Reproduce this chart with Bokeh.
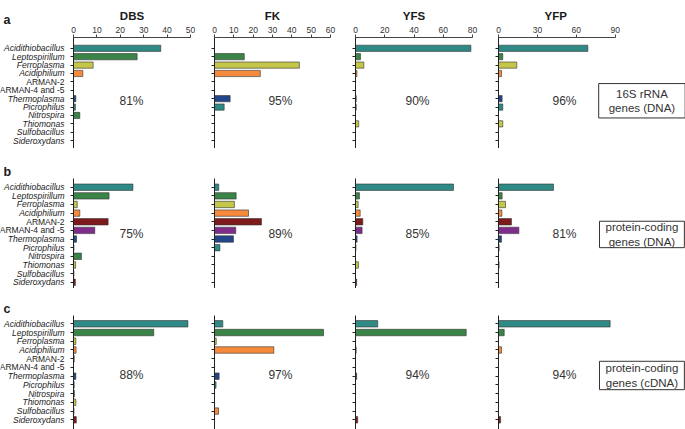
from bokeh.plotting import figure
from bokeh.models import Range1d, FixedTicker, LabelSet, Label, ColumnDataSource, LinearAxis
from bokeh.core.properties import value
from bokeh.layouts import column, row
from bokeh.embed import file_html
from bokeh.resources import INLINE

# ---------------- data ----------------
categories = ["Acidithiobacillus", "Leptospirillum", "Ferroplasma", "Acidiphilium",
              "ARMAN-2", "ARMAN-4 and -5", "Thermoplasma", "Picrophilus", "Nitrospira",
              "Thiomonas", "Sulfobacillus", "Sideroxydans"]
label_styles = ["italic", "italic", "italic", "italic", "normal", "normal",
                "italic", "italic", "italic", "italic", "italic", "italic"]
bar_colors = ["#2f8a85", "#3a8447", "#c4c64a", "#f68a3c", "#7f1a1c", "#7f2c8a",
              "#23468a", "#2f8a85", "#3a8447", "#c4c64a", "#f68a3c", "#7f1a1c"]

sites = ["DBS", "FK", "YFS", "YFP"]
axis_max = [50, 60, 80, 90]
axis_step = [10, 10, 20, 30]
row_letters = ["a", "b", "c"]
row_boxes = ["16S rRNA\ngenes (DNA)", "protein-coding\ngenes (DNA)", "protein-coding\ngenes (cDNA)"]

# a: 16S rRNA genes (DNA)
rrna_DBS = [37.3, 27.2, 8.4, 4.0, 0, 0, 1.0, 0.8, 2.7, 0, 0, 0]
rrna_FK = [0, 15.4, 43.9, 23.7, 0, 0, 8.1, 5.0, 0, 0, 0, 0]
rrna_YFS = [78.9, 3.4, 5.7, 1.0, 0, 0, 0.5, 0.5, 0, 2.2, 0, 0]
rrna_YFP = [68.9, 3.3, 14.1, 2.3, 0, 0, 2.8, 3.3, 0, 3.3, 0, 0]
rrna_pct = ["81%", "95%", "90%", "96%"]

# b: protein-coding genes (DNA)
dna_DBS = [25.4, 15.2, 1.6, 2.7, 14.8, 9.1, 1.3, 0.2, 3.4, 0.9, 0.2, 0.8]
dna_FK = [2.2, 11.2, 10.3, 17.6, 24.3, 11.0, 9.8, 2.8, 0, 0, 0, 0]
dna_YFS = [67.0, 2.7, 1.8, 3.2, 5.0, 4.5, 1.1, 0.3, 0, 2.0, 0, 0.8]
dna_YFP = [42.4, 2.8, 5.4, 2.6, 10.0, 15.7, 2.3, 0.5, 0, 0.5, 0, 0]
dna_pct = ["75%", "89%", "85%", "81%"]

# c: protein-coding genes (cDNA)
cdna_DBS = [48.9, 34.3, 1.0, 1.1, 0.3, 0, 1.0, 0.3, 0.4, 1.0, 0.2, 1.2]
cdna_FK = [4.3, 56.4, 0.9, 30.7, 0, 0, 2.4, 0.8, 0, 0, 2.1, 0]
cdna_YFS = [15.2, 75.7, 0, 0.5, 0, 0, 0.8, 0, 0, 0, 0, 1.5]
cdna_YFP = [86.1, 4.4, 0, 2.3, 0, 0, 0, 0, 0, 0, 0, 1.6]
cdna_pct = ["88%", "97%", "94%", "94%"]

row_values = [[rrna_DBS, rrna_FK, rrna_YFS, rrna_YFP],
              [dna_DBS, dna_FK, dna_YFS, dna_YFP],
              [cdna_DBS, cdna_FK, cdna_YFS, cdna_YFP]]
row_pcts = [rrna_pct, dna_pct, cdna_pct]

# ---------------- layout constants (pixels) ----------------
label_col_width = 65
col_left = [8, 12, 12, 12]
col_frame = [117, 116, 117, 187]
col_right = [12, 13, 14, 0]
col_xend = [50, 60, 80, 144.2]
pct_x = [24.8, 34.1, 42.4, 50.9]

row_fig_top = [0, 148, 288]
row_fig_bottom = [148, 288, 429]
row_frame_top = [35, 178, 315]
row_first = [46, 186.7, 323.3]
row_spacing = [8.545, 8.64, 8.73]
row_pct_y = [6.25, 5.47, 5.92]
row_letter_standoff = [21, 0, 0]
row_box_pad = [(10, 4), (6, 0), (6, 1)]
box_x = 110.6

FONT = "Liberation Sans"
idx = list(range(len(categories)))


def y_range_for(r):
    first, sp = row_first[r], row_spacing[r]
    return Range1d((row_fig_bottom[r] - first) / sp, (row_frame_top[r] - first) / sp)


def bare_figure(width, height, x_range, y_range, left, right, top):
    p = figure(width=width, height=height, x_range=x_range, y_range=y_range,
               x_axis_location=None, y_axis_location=None,
               toolbar_location=None, output_backend="svg",
               min_border_left=left, min_border_right=right,
               min_border_top=top, min_border_bottom=0,
               outline_line_color=None, background_fill_color="white",
               border_fill_color="white")
    p.xgrid.visible = False
    p.ygrid.visible = False
    return p


def style_title(p, text, size, align, offset, standoff):
    p.title.text = text
    p.title.align = align
    p.title.offset = offset
    p.title.standoff = standoff
    p.title.text_font = FONT
    p.title.text_font_size = size
    p.title.text_font_style = "bold"
    p.title.text_color = "#1a1a1a"


rows = []
for r in range(3):
    figs = []
    height = row_fig_bottom[r] - row_fig_top[r]
    border_top = row_frame_top[r] - row_fig_top[r]

    # category label column (with the panel letter as its title)
    lp = bare_figure(label_col_width, height, Range1d(0, label_col_width),
                     y_range_for(r), 0, 0, border_top)
    lsrc = ColumnDataSource(dict(y=idx, name=categories, style=label_styles))
    lp.add_layout(LabelSet(x=label_col_width - 1, y="y", text="name", source=lsrc,
                           text_align="right", text_baseline="middle",
                           text_font=value(FONT), text_font_size=value("8.5px"),
                           text_font_style="style", text_color=value("#222222")))
    style_title(lp, row_letters[r], "12.5px", "left", 3, row_letter_standoff[r])
    figs.append(lp)

    for c in range(4):
        p = bare_figure(col_left[c] + col_frame[c] + col_right[c], height,
                        Range1d(0, col_xend[c]), y_range_for(r),
                        col_left[c], col_right[c], border_top)

        yax = LinearAxis(ticker=FixedTicker(ticks=idx))
        yax.major_label_overrides = {i: "" for i in idx}
        yax.major_tick_out = 3
        yax.major_tick_in = 0
        yax.minor_tick_line_color = None
        yax.axis_line_color = "#222222"
        yax.major_tick_line_color = "#222222"
        yax.major_label_standoff = 0
        p.add_layout(yax, "left")

        if r == 0:
            xax = LinearAxis(ticker=FixedTicker(ticks=list(range(0, axis_max[c] + 1, axis_step[c]))),
                             bounds=(0, axis_max[c]))
            xax.major_tick_out = 3
            xax.major_tick_in = 0
            xax.minor_tick_line_color = None
            xax.axis_line_color = "#444444"
            xax.major_tick_line_color = "#444444"
            xax.major_label_text_font = FONT
            xax.major_label_text_font_size = "8.5px"
            xax.major_label_text_color = "#333333"
            xax.major_label_standoff = 2
            p.add_layout(xax, "above")
            if c == 3:
                # centred over the 0-90 axis, not over the wider frame
                style_title(p, sites[c], "11.5px", "left", 46, 3)
            else:
                style_title(p, sites[c], "11.5px", "center", 0, 3)

        src = ColumnDataSource(dict(y=idx, v=row_values[r][c], color=bar_colors))
        p.hbar(y="y", left=0, right="v", height=0.74, fill_color="color",
               line_color="#333333", line_width=0.6, source=src)

        p.add_layout(Label(x=pct_x[c], y=row_pct_y[r], text=row_pcts[r][c],
                           text_align="center", text_baseline="middle",
                           text_font=FONT, text_font_size="12px", text_color="#333333"))

        if c == 3:
            p.add_layout(Label(x=box_x, y=row_pct_y[r], text=row_boxes[r],
                               text_align="center", text_baseline="middle",
                               text_font=FONT, text_font_size="11.5px", text_color="#333333",
                               border_line_color="#333333", border_line_width=1,
                               background_fill_color="white", padding=row_box_pad[r]))
        figs.append(p)
    rows.append(row(*figs))

layout = column(*rows)
open("out.html", "w").write(file_html(layout, INLINE))
